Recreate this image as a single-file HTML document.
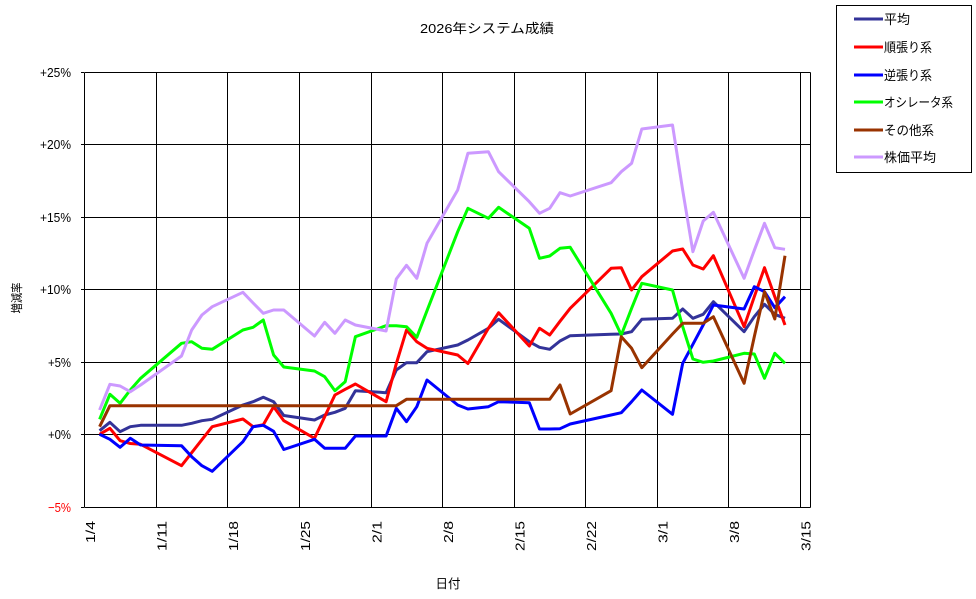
<!DOCTYPE html>
<html>
<head>
<meta charset="utf-8">
<style>
html,body{margin:0;padding:0;background:#fff;}
svg{display:block;}
text{font-family:"Liberation Sans","Noto Sans CJK JP",sans-serif;fill:#000;}
</style>
</head>
<body>
<svg width="976" height="599" viewBox="0 0 976 599" xmlns="http://www.w3.org/2000/svg">
<rect x="0" y="0" width="976" height="599" fill="#fff"/>
<text x="487" y="33" font-size="13" text-anchor="middle" textLength="134" lengthAdjust="spacingAndGlyphs">2026年システム成績</text>
<g stroke="#000" stroke-width="1" shape-rendering="crispEdges" fill="none">
<line x1="84.5" y1="72.5" x2="810.5" y2="72.5"/>
<line x1="84.5" y1="144.5" x2="810.5" y2="144.5"/>
<line x1="84.5" y1="217.5" x2="810.5" y2="217.5"/>
<line x1="84.5" y1="289.5" x2="810.5" y2="289.5"/>
<line x1="84.5" y1="362.5" x2="810.5" y2="362.5"/>
<line x1="84.5" y1="434.5" x2="810.5" y2="434.5"/>
<line x1="84.5" y1="507.5" x2="810.5" y2="507.5"/>
<line x1="84.5" y1="72.5" x2="84.5" y2="507.5"/>
<line x1="156.5" y1="72.5" x2="156.5" y2="507.5"/>
<line x1="227.5" y1="72.5" x2="227.5" y2="507.5"/>
<line x1="299.5" y1="72.5" x2="299.5" y2="507.5"/>
<line x1="371.5" y1="72.5" x2="371.5" y2="507.5"/>
<line x1="442.5" y1="72.5" x2="442.5" y2="507.5"/>
<line x1="514.5" y1="72.5" x2="514.5" y2="507.5"/>
<line x1="585.5" y1="72.5" x2="585.5" y2="507.5"/>
<line x1="657.5" y1="72.5" x2="657.5" y2="507.5"/>
<line x1="728.5" y1="72.5" x2="728.5" y2="507.5"/>
<line x1="800.5" y1="72.5" x2="800.5" y2="507.5"/>
<line x1="810.5" y1="72.5" x2="810.5" y2="507.5"/>
<line x1="81" y1="72.5" x2="84" y2="72.5"/>
<line x1="81" y1="144.5" x2="84" y2="144.5"/>
<line x1="81" y1="217.5" x2="84" y2="217.5"/>
<line x1="81" y1="289.5" x2="84" y2="289.5"/>
<line x1="81" y1="362.5" x2="84" y2="362.5"/>
<line x1="81" y1="434.5" x2="84" y2="434.5"/>
<line x1="81" y1="507.5" x2="84" y2="507.5"/>
</g>
<g font-size="13" text-anchor="end">
<text x="71" y="77" textLength="31" lengthAdjust="spacingAndGlyphs">+25%</text>
<text x="71" y="149" textLength="31" lengthAdjust="spacingAndGlyphs">+20%</text>
<text x="71" y="222" textLength="31" lengthAdjust="spacingAndGlyphs">+15%</text>
<text x="71" y="294" textLength="31" lengthAdjust="spacingAndGlyphs">+10%</text>
<text x="71" y="367" textLength="23" lengthAdjust="spacingAndGlyphs">+5%</text>
<text x="71" y="439" textLength="23" lengthAdjust="spacingAndGlyphs">+0%</text>
<text x="71" y="512" textLength="23" lengthAdjust="spacingAndGlyphs" style="fill:#ff0000">−5%</text>
</g>
<g font-size="13" text-anchor="end">
<text transform="translate(95,521) rotate(-90)" textLength="22" lengthAdjust="spacingAndGlyphs">1/4</text>
<text transform="translate(166.5,521) rotate(-90)" textLength="30" lengthAdjust="spacingAndGlyphs">1/11</text>
<text transform="translate(238,521) rotate(-90)" textLength="30" lengthAdjust="spacingAndGlyphs">1/18</text>
<text transform="translate(310,521) rotate(-90)" textLength="30" lengthAdjust="spacingAndGlyphs">1/25</text>
<text transform="translate(381.5,521) rotate(-90)" textLength="22" lengthAdjust="spacingAndGlyphs">2/1</text>
<text transform="translate(453,521) rotate(-90)" textLength="22" lengthAdjust="spacingAndGlyphs">2/8</text>
<text transform="translate(524.5,521) rotate(-90)" textLength="30" lengthAdjust="spacingAndGlyphs">2/15</text>
<text transform="translate(596,521) rotate(-90)" textLength="30" lengthAdjust="spacingAndGlyphs">2/22</text>
<text transform="translate(667.5,521) rotate(-90)" textLength="22" lengthAdjust="spacingAndGlyphs">3/1</text>
<text transform="translate(739,521) rotate(-90)" textLength="22" lengthAdjust="spacingAndGlyphs">3/8</text>
<text transform="translate(810.5,521) rotate(-90)" textLength="30" lengthAdjust="spacingAndGlyphs">3/15</text>
</g>
<text transform="translate(21,298) rotate(-90)" font-size="12" text-anchor="middle" textLength="31" lengthAdjust="spacingAndGlyphs">増減率</text>
<text x="448" y="588" font-size="12.5" text-anchor="middle" textLength="25" lengthAdjust="spacingAndGlyphs">日付</text>
<g fill="none" stroke-width="3" stroke-linejoin="round">
<polyline stroke="#333399" points="99.6,430.7 109.9,422.3 120.1,431.7 130.3,426.7 140.6,425.3 181.5,425.3 191.7,423.3 201.9,420.7 212.2,419.3 242.9,405 253.1,401.7 263.3,397.3 273.6,401.7 283.8,415.5 314.5,420 324.7,415 334.9,412.3 345.2,408.3 355.4,390.7 386.1,392.7 396.3,370 406.5,362.7 416.8,362.7 427,351.7 457.7,345 467.9,340 488.4,328.3 498.6,319.3 529.3,341.7 539.5,347.3 549.7,349.3 560,341 570.2,335.7 611.1,334.3 621.3,334 631.6,331.7 641.8,319.3 672.5,318.3 682.7,309 692.9,318.3 703.2,314.3 713.4,301.7 744.1,331.7 754.3,316.7 764.5,304.3 774.8,314.3 785,318.3"/>
<polyline stroke="#ff0000" points="99.6,434.3 109.9,428.3 120.1,440.7 130.3,443.5 140.6,444.3 181.5,465.7 191.7,452.7 201.9,439.7 212.2,426.7 242.9,419 253.1,426.7 263.3,424.7 273.6,406.7 283.8,420.7 314.5,438.3 324.7,416.7 334.9,395 345.2,389.3 355.4,384 386.1,401.7 396.3,363.7 406.5,330 416.8,341.7 427,348.3 457.7,355 467.9,363.5 488.4,328.3 498.6,312.7 529.3,346 539.5,328.3 549.7,335 560,321.3 570.2,308.3 611.1,268.3 621.3,267.7 631.6,290 641.8,276.7 672.5,251 682.7,249 692.9,265 703.2,269 713.4,255.7 744.1,326.7 754.3,296.7 764.5,267.7 774.8,296.7 785,325"/>
<polyline stroke="#0000ff" points="99.6,434.3 109.9,439.3 120.1,447.3 130.3,438.3 140.6,445 181.5,445.7 191.7,456.7 201.9,465.7 212.2,471.3 242.9,441.7 253.1,426.7 263.3,425.3 273.6,431.3 283.8,449.5 314.5,439.3 324.7,448.3 334.9,448.3 345.2,448.3 355.4,436 386.1,436 396.3,408.3 406.5,421.7 416.8,406.7 427,380 457.7,405 467.9,409 488.4,406.7 498.6,401.7 529.3,402.7 539.5,429 549.7,429 560,428.7 570.2,424 611.1,415 621.3,412.7 631.6,401.7 641.8,390 672.5,414.3 682.7,363.3 692.9,344.3 703.2,325 713.4,305 744.1,309 754.3,286.7 764.5,291.7 774.8,307.7 785,296.7"/>
<polyline stroke="#00ff00" points="99.6,419.3 109.9,394.3 120.1,403.3 130.3,390 140.6,378.3 181.5,343.3 191.7,341.7 201.9,348.3 212.2,349.3 242.9,330 253.1,327.3 263.3,320 273.6,355 283.8,367 314.5,371 324.7,376.7 334.9,390.7 345.2,381.7 355.4,336.7 386.1,325.7 396.3,325.7 406.5,326.7 416.8,337.3 427,310.7 457.7,231.7 467.9,208.3 488.4,218.3 498.6,207.3 529.3,228.3 539.5,258.3 549.7,256 560,248.3 570.2,247.3 611.1,313.3 621.3,335 631.6,308.3 641.8,283.3 672.5,290 682.7,326.7 692.9,359 703.2,362.3 713.4,361 744.1,353.3 754.3,354 764.5,378.3 774.8,353.3 785,363.3"/>
<polyline stroke="#993300" points="99.6,426.7 109.9,405.7 386.1,405.7 396.3,405.7 406.5,399.3 549.7,399.3 560,385 570.2,414 611.1,390.7 621.3,336.7 631.6,348.3 641.8,367.7 672.5,334 682.7,323.3 703.2,323.3 713.4,316.7 744.1,383.3 754.3,336.7 764.5,291.7 774.8,319 785,255.7"/>
<polyline stroke="#cc99ff" points="99.6,410 109.9,384.3 120.1,386 130.3,391.7 140.6,385 181.5,356 191.7,330 201.9,315 212.2,306.7 242.9,292.3 253.1,303 263.3,313.3 273.6,310 283.8,310 314.5,336 324.7,322.3 334.9,333.3 345.2,320 355.4,325 386.1,331 396.3,279 406.5,265.3 416.8,278.3 427,243.3 457.7,190 467.9,153.3 488.4,151.7 498.6,171.7 529.3,201.7 539.5,213.3 549.7,208.3 560,192.7 570.2,196 611.1,182.7 621.3,171.7 631.6,163.3 641.8,129 672.5,125 682.7,190.3 692.9,251.7 703.2,221 713.4,212.3 744.1,278.3 754.3,250.3 764.5,223.3 774.8,247.7 785,249.3"/>
</g>
<rect x="836.5" y="5.5" width="135" height="167" fill="#fff" stroke="#000" stroke-width="1" shape-rendering="crispEdges"/>
<g stroke-width="3">
<line x1="854" y1="19" x2="883" y2="19" stroke="#333399"/>
<line x1="854" y1="47" x2="883" y2="47" stroke="#ff0000"/>
<line x1="854" y1="75" x2="883" y2="75" stroke="#0000ff"/>
<line x1="854" y1="102" x2="883" y2="102" stroke="#00ff00"/>
<line x1="854" y1="130" x2="883" y2="130" stroke="#993300"/>
<line x1="854" y1="157" x2="883" y2="157" stroke="#cc99ff"/>
</g>
<g font-size="13">
<text x="884" y="24" textLength="26" lengthAdjust="spacingAndGlyphs">平均</text>
<text x="884" y="52" textLength="48" lengthAdjust="spacingAndGlyphs">順張り系</text>
<text x="884" y="80" textLength="48" lengthAdjust="spacingAndGlyphs">逆張り系</text>
<text x="884" y="107" textLength="69" lengthAdjust="spacingAndGlyphs">オシレータ系</text>
<text x="884" y="135" textLength="50" lengthAdjust="spacingAndGlyphs">その他系</text>
<text x="884" y="162" textLength="52" lengthAdjust="spacingAndGlyphs">株価平均</text>
</g>
</svg>
</body>
</html>
